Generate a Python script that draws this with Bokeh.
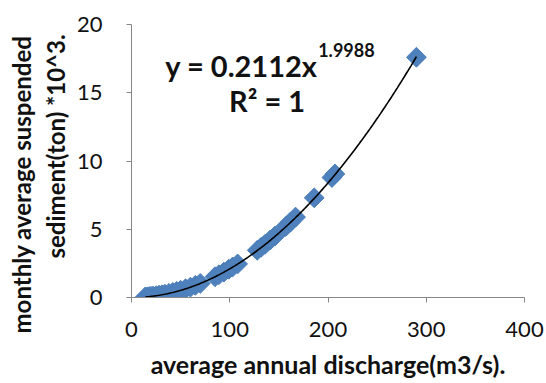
import numpy as np
from bokeh.plotting import figure
from bokeh.models import Range1d, FixedTicker, Label, ColumnDataSource, Title
from bokeh.embed import file_html
from bokeh.resources import INLINE

# Average annual discharge (m3/s) and monthly average suspended sediment (ton *10^3)
discharge = [14, 16, 18, 20, 22, 25, 28, 31, 34, 38, 42, 46, 50, 55, 60, 65, 70,
             85, 89, 94, 99, 103, 108, 128, 132, 136, 141, 146, 157, 162, 167,
             186, 204, 207, 290]
sediment = [0.04, 0.05, 0.07, 0.08, 0.10, 0.13, 0.17, 0.20, 0.24, 0.30, 0.37, 0.45,
            0.53, 0.64, 0.76, 0.89, 1.03, 1.52, 1.67, 1.86, 2.07, 2.24, 2.46, 3.46,
            3.68, 3.90, 4.20, 4.50, 5.20, 5.54, 5.89, 7.30, 8.79, 9.05, 17.6]

# Power trendline y = a * x^b (ton), shown on the axis in thousands
fit_a = 0.2112
fit_b = 1.9988
x_ticks = [0, 100, 200, 300, 400]
y_ticks = [0, 5, 10, 15, 20]
y_title_lines = ["monthly average suspended", "sediment(ton) *10^3."]

FONT = "Lato"
AXIS_GRAY = "#868686"
INK = "#111111"

p = figure(width=546, height=383, output_backend="svg", toolbar_location=None,
           x_range=Range1d(0, 400), y_range=Range1d(0, 20),
           min_border_left=131, min_border_right=22,
           min_border_top=24, min_border_bottom=86)

p.outline_line_color = None
p.xgrid.grid_line_color = None
p.ygrid.grid_line_color = None

for ax in (p.xaxis[0], p.yaxis[0]):
    ax.axis_line_color = AXIS_GRAY
    ax.major_tick_line_color = AXIS_GRAY
    ax.minor_tick_line_color = None
    ax.major_tick_in = 0
    ax.major_tick_out = 5
    ax.major_label_text_font = FONT
    ax.major_label_text_font_size = "22px"
    ax.major_label_text_color = INK

p.xaxis[0].ticker = FixedTicker(ticks=x_ticks)
p.yaxis[0].ticker = FixedTicker(ticks=y_ticks)
p.xaxis[0].major_label_standoff = 19
p.yaxis[0].major_label_standoff = 24

p.xaxis[0].axis_label = "average annual discharge(m3/s)."
p.xaxis[0].axis_label_text_font = FONT
p.xaxis[0].axis_label_text_font_size = "25px"
p.xaxis[0].axis_label_text_font_style = "bold"
p.xaxis[0].axis_label_text_color = INK
p.xaxis[0].axis_label_standoff = 9

# Two-line vertical title beside the y axis: inner line first, outer line second
for text, shift, gap in zip(reversed(y_title_lines), [39, -36], [7, 0]):
    p.add_layout(Title(text=text, align="left", offset=shift, standoff=gap,
                       text_font=FONT, text_font_size="24px", text_font_style="bold",
                       text_color=INK), "left")

# Trendline from the fitted power law
xs = np.linspace(min(discharge), max(discharge), 200)
ys = fit_a * xs ** fit_b / 1000.0

src = ColumnDataSource(data=dict(x=discharge, y=sediment))
p.scatter("x", "y", source=src, marker="square", angle=np.pi / 4, size=14,
          fill_color="#4F81BD", line_color="#4A7EBB", line_width=1)
p.line(xs, ys, line_color="black", line_width=1.6)

# Equation and R-squared text
eq_main = Label(x=189.5, y=17.0, text="y = %.4fx" % fit_a, text_font=FONT,
                text_font_size="29px", text_font_style="bold", text_color=INK,
                text_align="right", text_baseline="alphabetic")
eq_exp = Label(x=190.0, y=18.1, text="%.4f" % fit_b, text_font=FONT,
               text_font_size="18px", text_font_style="bold", text_color=INK,
               text_align="left", text_baseline="alphabetic")
eq_r2 = Label(x=138.0, y=14.45, text="R\u00b2 = 1", text_font=FONT,
              text_font_size="29px", text_font_style="bold", text_color=INK,
              text_align="center", text_baseline="alphabetic")
for lab in (eq_main, eq_exp, eq_r2):
    p.add_layout(lab)

open("out.html", "w").write(file_html(p, INLINE))
